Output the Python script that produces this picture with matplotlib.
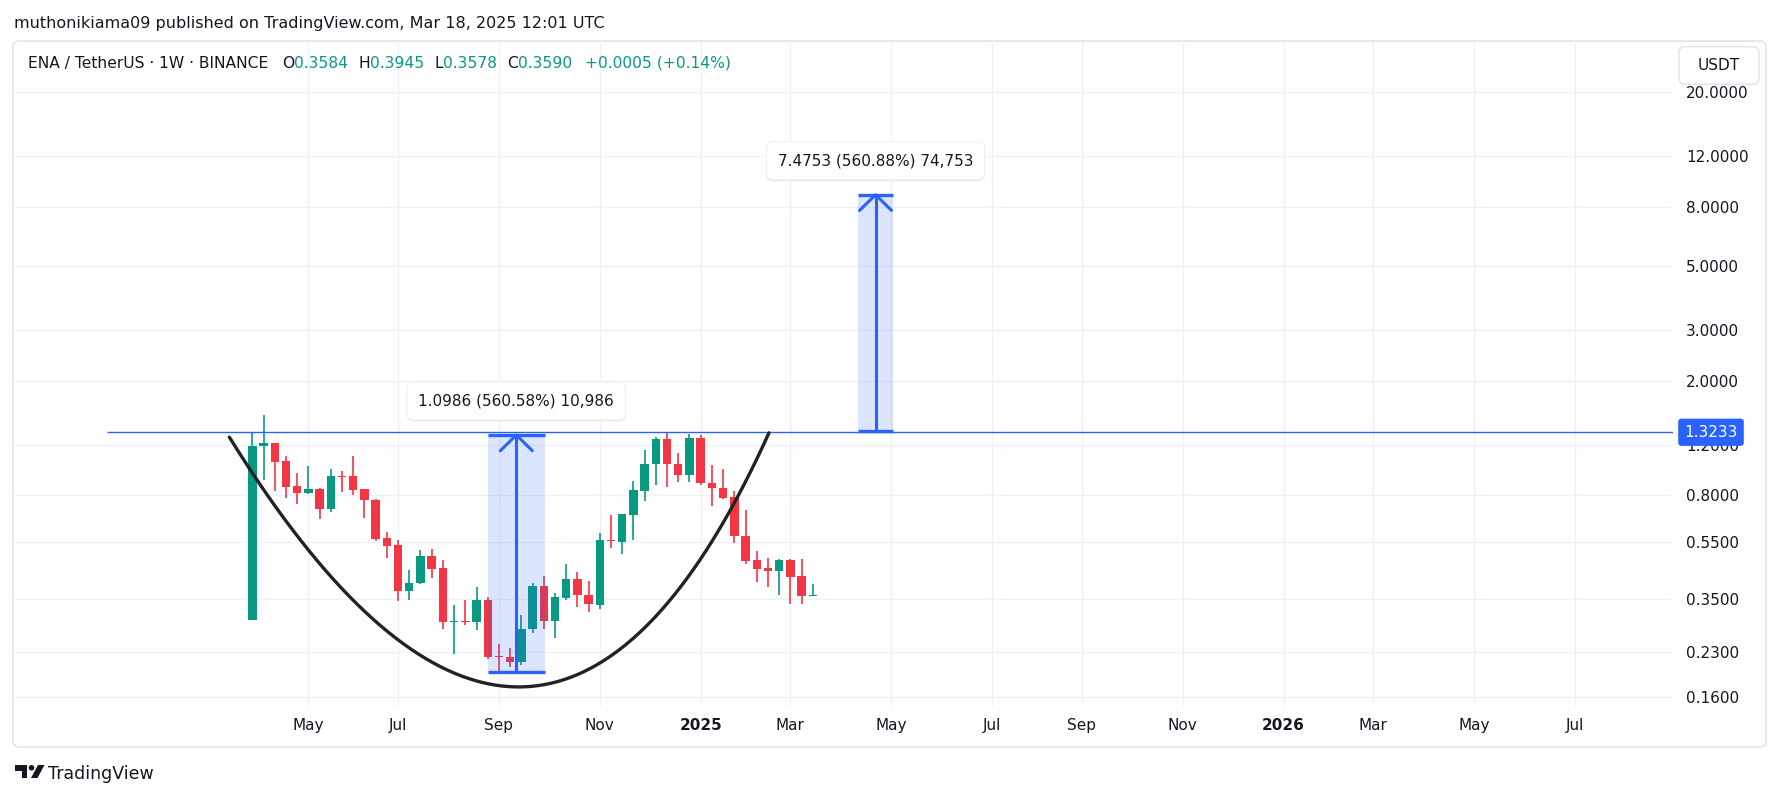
import numpy as np
import pandas as pd
import matplotlib
matplotlib.use("Agg")
import matplotlib.pyplot as plt
import matplotlib.patches as patches
from matplotlib.transforms import IdentityTransform
from matplotlib.ticker import NullLocator

W, H = 1781, 799

# ENA / USDT weekly candles, first bar = week of 2024-04-01
opens = [0.296, 1.19, 1.21, 1.049, 0.86, 0.815, 0.839, 0.717, 0.935, 0.931,
         0.839, 0.77, 0.568, 0.537, 0.374, 0.399, 0.493, 0.448, 0.292, 0.293,
         0.290, 0.347, 0.222, 0.221, 0.212, 0.275, 0.388, 0.294, 0.353, 0.41,
         0.361, 0.334, 0.56, 0.552, 0.685, 0.83, 1.03, 1.259, 1.03, 0.94,
         1.267, 0.883, 0.85, 0.79, 0.58, 0.476, 0.447, 0.439, 0.476, 0.42,
         0.3584]
highs = [1.32, 1.518, 1.215, 1.099, 0.954, 1.013, 0.845, 0.985, 0.971, 1.092,
         0.842, 0.775, 0.597, 0.559, 0.441, 0.517, 0.52, 0.476, 0.334, 0.347,
         0.385, 0.355, 0.245, 0.237, 0.307, 0.399, 0.42, 0.368, 0.463, 0.434,
         0.404, 0.591, 0.684, 0.69, 0.90, 1.153, 1.276, 1.33, 1.126, 1.31,
         1.295, 1.016, 0.985, 0.83, 0.711, 0.512, 0.484, 0.48, 0.48, 0.48,
         0.3945]
lows = [0.295, 0.904, 0.828, 0.786, 0.745, 0.81, 0.663, 0.70, 0.819, 0.80,
        0.666, 0.554, 0.485, 0.343, 0.347, 0.395, 0.415, 0.276, 0.226, 0.285,
        0.273, 0.217, 0.196, 0.203, 0.206, 0.267, 0.275, 0.257, 0.347, 0.327,
        0.316, 0.323, 0.524, 0.50, 0.56, 0.764, 0.868, 0.855, 0.887, 0.89,
        0.87, 0.734, 0.78, 0.546, 0.461, 0.402, 0.386, 0.362, 0.337, 0.335,
        0.3578]
closes = [1.186, 1.21, 1.042, 0.855, 0.815, 0.839, 0.717, 0.931, 0.925, 0.834,
          0.770, 0.563, 0.534, 0.374, 0.398, 0.493, 0.446, 0.290, 0.294, 0.290,
          0.347, 0.221, 0.220, 0.211, 0.276, 0.388, 0.294, 0.355, 0.41, 0.36,
          0.335, 0.559, 0.555, 0.687, 0.833, 1.031, 1.259, 1.03, 0.94, 1.267,
          0.88, 0.848, 0.781, 0.579, 0.474, 0.446, 0.439, 0.476, 0.418, 0.3585,
          0.3590]

first_week = "2024-04-01"
n_weeks = 127          # bars on the time scale, incl. empty future
price_ticks = [20, 12, 8, 5, 3, 2, 1.2, 0.8, 0.55, 0.35, 0.23, 0.16]

level = 1.3233
level_start = -13

# price range drawings: start bar, end bar, low, high, label
range1 = (21, 26.1, 0.196, 1.2946, "1.0986 (560.58%) 10,986")
range2 = (54, 57.2, 1.3328, 8.8081, "7.4753 (560.88%) 74,753")

# cup drawing anchors (bar, price)
cup_start = (-2.05, 1.273)
cup_low = (23.86, 0.1734)
cup_end = (46.09, 1.317)

UP = "#089981"
DOWN = "#f23645"
BLUE = "#2962ff"
GRID = "#eef1f6"
TXT = "#131722"
PX_DEC = 288.5   # pixels per decade on the price scale
PX_BAR = 11.21


def fx(px):
    return px / W


def fy(py):
    return 1 - py / H


fig = plt.figure(figsize=(W / 100, H / 100), dpi=100)
fig.patch.set_facecolor("white")

frame = patches.FancyBboxPatch((13, H - 747), 1766 - 13, 747 - 41,
                               boxstyle="round,pad=0,rounding_size=6",
                               transform=IdentityTransform(), fc="white",
                               ec="#e0e3eb", lw=1.2, zorder=-5)
fig.add_artist(frame)

ax = fig.add_axes([fx(13), fy(706), fx(1673) - fx(13), fy(41) - fy(706)])
ax.set_facecolor("none")
ax.set_yscale("log")
ax.set_ylim(10 ** (np.log10(0.16) - (706 - 697) / PX_DEC),
            10 ** (np.log10(20) + (92 - 41) / PX_DEC))
ax.set_xlim(-21.35, 126.74)

# time axis
weeks = pd.date_range(first_week, periods=n_weeks, freq="7D")
xt, xl = [], []
for i, d in enumerate(weeks):
    if d.month % 2 == 1 and d.day <= 7:
        xt.append(i)
        xl.append(str(d.year) if d.month == 1 else d.strftime("%b"))
ax.set_xticks(xt)
ax.set_xticklabels(xl, fontsize=11, color=TXT)
for lb in ax.get_xticklabels():
    if lb.get_text().isdigit():
        lb.set_fontweight("bold")
ax.tick_params(axis="x", length=0, pad=8.5)

# price axis
ax.set_yticks(price_ticks)
ax.set_yticklabels([f"{p:.4f}" for p in price_ticks], fontsize=11, color=TXT)
ax.yaxis.set_minor_locator(NullLocator())
ax.yaxis.tick_right()
ax.tick_params(axis="y", length=0, pad=9.4)

for s in ax.spines.values():
    s.set_visible(False)
ax.grid(True, color=GRID, lw=1)
ax.set_axisbelow(True)

# candles
o = np.array(opens)
h = np.array(highs)
l = np.array(lows)
c = np.array(closes)
idx = np.arange(len(o))
cols = np.where(c >= o, UP, DOWN)
ax.vlines(idx, l, h, colors=cols, lw=1.2, zorder=2)
blo = np.minimum(o, c)
bhi = np.maximum(np.maximum(o, c), blo * 1.008)
ax.bar(idx, bhi - blo, bottom=blo, width=0.75, color=cols, lw=0, zorder=3)

# horizontal level
ax.hlines(level, level_start, 500, color=BLUE, lw=1, zorder=4)
ax.text(1 + (1711 - 1673) / 1660, level, f"{level:.4f}",
        transform=ax.get_yaxis_transform(), ha="center", va="center",
        color="white", fontsize=11, clip_on=False, zorder=10,
        bbox=dict(boxstyle="round,pad=0.4,rounding_size=0.2", fc=BLUE, ec="none"))


def price_range(x0, x1, lo, hi, label):
    xc = (x0 + x1) / 2
    ax.fill_between([x0, x1], lo, hi, color=BLUE, alpha=0.16, lw=0, zorder=4)
    ax.hlines([lo, hi], x0, x1, color=BLUE, lw=2.4, zorder=5)
    ax.vlines(xc, lo, hi, color=BLUE, lw=2.2, zorder=5)
    dx = 16 / PX_BAR
    f = 10 ** (-15.7 / PX_DEC)
    ax.plot([xc - dx, xc, xc + dx], [hi * f, hi, hi * f], color=BLUE, lw=2.2,
            solid_capstyle="round", zorder=5)
    # soft shadow, then the label
    ax.annotate(label, (xc, hi), xytext=(0, 23.3), textcoords="offset points",
                ha="center", va="center", fontsize=11, color=(0, 0, 0, 0),
                zorder=7, bbox=dict(boxstyle="round,pad=0.75,rounding_size=0.45",
                                    fc=(0, 0, 0, 0.07), ec="none"))
    ax.annotate(label, (xc, hi), xytext=(0, 24.5), textcoords="offset points",
                ha="center", va="center", fontsize=11, color=TXT, zorder=8,
                bbox=dict(boxstyle="round,pad=0.75,rounding_size=0.45",
                          fc="white", ec="#ececec", lw=0.6))


price_range(*range1)
price_range(*range2)

# cup curve, quadratic bezier through the three anchors (log price space)
x0, y0 = cup_start[0], np.log10(cup_start[1])
xb, yb = cup_low[0], np.log10(cup_low[1])
x2, y2 = cup_end[0], np.log10(cup_end[1])
cx = 2 * xb - 0.5 * (x0 + x2)
cy = 2 * yb - 0.5 * (y0 + y2)
t = np.linspace(0, 1, 300)
bx = (1 - t) ** 2 * x0 + 2 * t * (1 - t) * cx + t ** 2 * x2
by = (1 - t) ** 2 * y0 + 2 * t * (1 - t) * cy + t ** 2 * y2
ax.plot(bx, 10 ** by, color="#222222", lw=2.4, zorder=6, solid_capstyle="round")

# header texts
fig.text(fx(13.6), fy(23.3),
         "muthonikiama09 published on TradingView.com, Mar 18, 2025 12:01 UTC",
         fontsize=11.5, color=TXT, va="center")

chg = closes[-1] - closes[-2]
pct = chg / closes[-2] * 100
segments = [("ENA / TetherUS · 1W · BINANCE", TXT, 14),
            ("O", TXT, 0), (f"{opens[-1]:.4f}", UP, 10),
            ("H", TXT, 0), (f"{highs[-1]:.4f}", UP, 10),
            ("L", TXT, 0), (f"{lows[-1]:.4f}", UP, 10),
            ("C", TXT, 0), (f"{closes[-1]:.4f}", UP, 13),
            (f"{chg:+.4f} ({pct:+.2f}%)", UP, 0)]
fig.canvas.draw()
r = fig.canvas.get_renderer()
xpos = 28
for s, col, gap in segments:
    tt = fig.text(fx(xpos), fy(63.5), s, fontsize=11.2, color=col, va="center")
    xpos = tt.get_window_extent(r).x1 + gap

# currency button
btn = patches.FancyBboxPatch((1679, H - 84.3), 80, 37.6,
                             boxstyle="round,pad=0,rounding_size=6",
                             transform=IdentityTransform(), fc="white",
                             ec="#e0e3eb", lw=1, zorder=2)
fig.add_artist(btn)
fig.text(fx(1719), fy(65.5), "USDT", fontsize=11, color=TXT, ha="center",
         va="center", zorder=3)

# TradingView logo
def px_poly(pts, **kw):
    return patches.Polygon([(x, H - y) for x, y in pts], closed=True,
                           transform=IdentityTransform(), **kw)


fig.add_artist(px_poly([(14.5, 765), (27, 765), (27, 778), (21.5, 778),
                        (21.5, 770.5), (14.5, 770.5)], fc=TXT, ec="none"))
fig.add_artist(patches.Circle((31.5, H - 767.8), 2.8, transform=IdentityTransform(),
                              fc=TXT, ec="none"))
fig.add_artist(px_poly([(38, 765), (44.5, 765), (37.5, 778), (31, 778)],
                       fc=TXT, ec="none"))
fig.text(fx(48), fy(774), "TradingView", fontsize=12.5, color=TXT, va="center")

fig.savefig("out.png", dpi=100)
